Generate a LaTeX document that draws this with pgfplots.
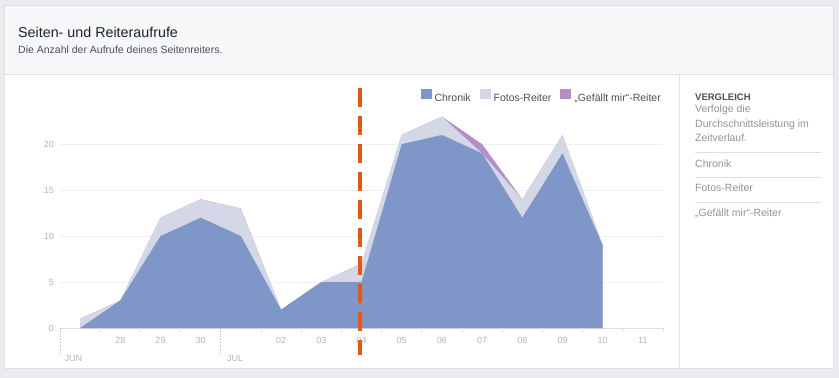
\documentclass[border=0pt]{standalone}
\usepackage{fontspec}
\setmainfont{Liberation Sans}
\usepackage{pgfplots}
\pgfplotsset{compat=1.18}
\definecolor{bgc}{HTML}{E9EBEE}
\definecolor{cardborder}{HTML}{DDDFE2}
\definecolor{headc}{HTML}{F6F7F9}
\definecolor{titlec}{HTML}{1D2129}
\definecolor{subc}{HTML}{4B4F56}
\definecolor{sidec}{HTML}{90949C}
\definecolor{tickc}{HTML}{B3B6BC}
\definecolor{gridc}{HTML}{F0F1F4}
\definecolor{chronik}{HTML}{7F96C8}
\definecolor{fotos}{HTML}{D4D8E6}
\definecolor{gefaellt}{HTML}{B48EC8}
\definecolor{orangec}{HTML}{EE5511}

% cumulative tops (x = day index, 0 = 27 Jun)
\pgfplotstableread{
x chronik fotos total
0 0 1 1
1 3 3 3
2 10 12 12
3 12 14 14
4 10 13 13
5 2 2 2
6 5 5 5
7 5 7 7
8 20 21 21
9 21 23 23
10 19 19 20
11 12 14 14
12 19 21 21
13 9 9 9
}\datatab

\begin{document}
\begin{tikzpicture}
\fill[bgc] (0,0) rectangle (839bp,-378bp);
\fill[white] (4bp,-5bp) rectangle (834bp,-369bp);
\fill[headc] (4bp,-5bp) rectangle (834bp,-74bp);
\draw[cardborder, line width=0.8bp] (4.5bp,-74.5bp) -- (833.5bp,-74.5bp);
\draw[cardborder, line width=0.8bp] (4.5bp,-5.5bp) rectangle (833.5bp,-368.5bp);
\draw[cardborder, line width=0.8bp] (679.5bp,-74.5bp) -- (679.5bp,-368.5bp);

\node[anchor=base west, inner sep=0pt, text=titlec, font=\fontsize{14.3bp}{14.3bp}\selectfont] at (18bp,-37bp) {Seiten- und Reiteraufrufe};
\node[anchor=base west, inner sep=0pt, text=subc, font=\fontsize{10.5bp}{10.5bp}\selectfont] at (18bp,-53bp) {Die Anzahl der Aufrufe deines Seitenreiters.};

\node[anchor=base west, inner sep=0pt, text=subc, font=\bfseries\fontsize{9.5bp}{9.5bp}\selectfont] at (695bp,-100bp) {VERGLEICH};
\begin{scope}[every node/.style={anchor=base west, inner sep=0pt, text=sidec, font=\fontsize{10.5bp}{10.5bp}\selectfont}]
\node at (695bp,-112.5bp) {Verfolge die};
\node at (695bp,-127bp) {Durchschnittsleistung im};
\node at (695bp,-141.5bp) {Zeitverlauf.};
\node at (695bp,-167.5bp) {Chronik};
\node at (695bp,-191.5bp) {Fotos-Reiter};
\node at (695bp,-216.5bp) {„Gefällt mir“-Reiter};
\end{scope}
\draw[cardborder, line width=0.8bp] (695bp,-152.5bp) -- (821bp,-152.5bp);
\draw[cardborder, line width=0.8bp] (695bp,-177.5bp) -- (821bp,-177.5bp);
\draw[cardborder, line width=0.8bp] (695bp,-202.5bp) -- (821bp,-202.5bp);

\begin{axis}[
  at={(60bp,-328bp)}, anchor=south west,
  scale only axis, width=603bp, height=239bp,
  xmin=-0.5, xmax=14.5, ymin=0, ymax=26,
  clip=false,
  axis lines*=left,
  x axis line style={draw=cardborder, line width=0.8bp},
  y axis line style={draw=none},
  xtick={1,2,3,5,6,7,8,9,10,11,12,13,14},
  xticklabels={28,29,30,02,03,04,05,06,07,08,09,10,11},
  ytick={0,5,10,15,20},
  major tick length=0pt, minor tick length=0pt,
  xtick style={draw=none},
  ytick style={draw=none},
  ymajorgrids, grid style={draw=gridc, line width=0.8bp},
  ticklabel style={font=\fontsize{9bp}{9bp}\selectfont, text=tickc},
  /pgf/number format/assume math mode=true,
  xticklabel style={anchor=north, inner sep=0pt, yshift=-9bp},
  yticklabel style={anchor=east, inner sep=0pt, xshift=-6bp},
  legend columns=3,
  legend style={at={(0.9967,0.9707)}, anchor=east, draw=none, fill=none, inner sep=0pt,
    font=\fontsize{10.5bp}{10.5bp}\selectfont, text=subc,
    /tikz/every odd column/.append style={column sep=3bp},
    /tikz/every even column/.append style={column sep=9bp},
    nodes={inner sep=0pt}},
  legend image code/.code={\fill[#1] (0bp,0bp) rectangle (11bp,10bp);},
]
\addlegendimage{fill=chronik, draw=none}\addlegendentry{Chronik}
\addlegendimage{fill=fotos, draw=none}\addlegendentry{Fotos-Reiter}
\addlegendimage{fill=gefaellt, draw=none}\addlegendentry{„Gefällt mir“-Reiter}

\addplot[fill=gefaellt, draw=none, forget plot] table[x=x, y=total] {\datatab} \closedcycle;
\addplot[fill=fotos, draw=none, forget plot] table[x=x, y=fotos] {\datatab} \closedcycle;
\addplot[fill=chronik, draw=none, forget plot] table[x=x, y=chronik] {\datatab} \closedcycle;

\addplot[draw=orangec, line width=4bp, dash pattern=on 19bp off 9bp, forget plot] coordinates {(6.97,26.1) (6.97,-2.9)};

\pgfplotsinvokeforeach{-0.5,0.5,1.5,2.5,3.5,4.5,5.5,6.5,7.5,8.5,9.5,10.5,11.5,12.5,13.5,14.5}{
  \draw[cardborder, line width=0.8bp] (axis cs:#1,0) -- ++(0bp,-4bp);
}
\draw[tickc, dotted, line width=0.8bp] (axis cs:-0.5,0) -- ++(0bp,-27bp);
\draw[tickc, dotted, line width=0.8bp] (axis cs:3.5,0) -- ++(0bp,-27bp);
\node[anchor=base west, inner sep=0pt, text=tickc, font=\fontsize{9bp}{9bp}\selectfont, xshift=4.5bp, yshift=-33bp] at (axis cs:-0.5,0) {JUN};
\node[anchor=base west, inner sep=0pt, text=tickc, font=\fontsize{9bp}{9bp}\selectfont, xshift=6bp, yshift=-33bp] at (axis cs:3.5,0) {JUL};
\end{axis}
\end{tikzpicture}
\end{document}
